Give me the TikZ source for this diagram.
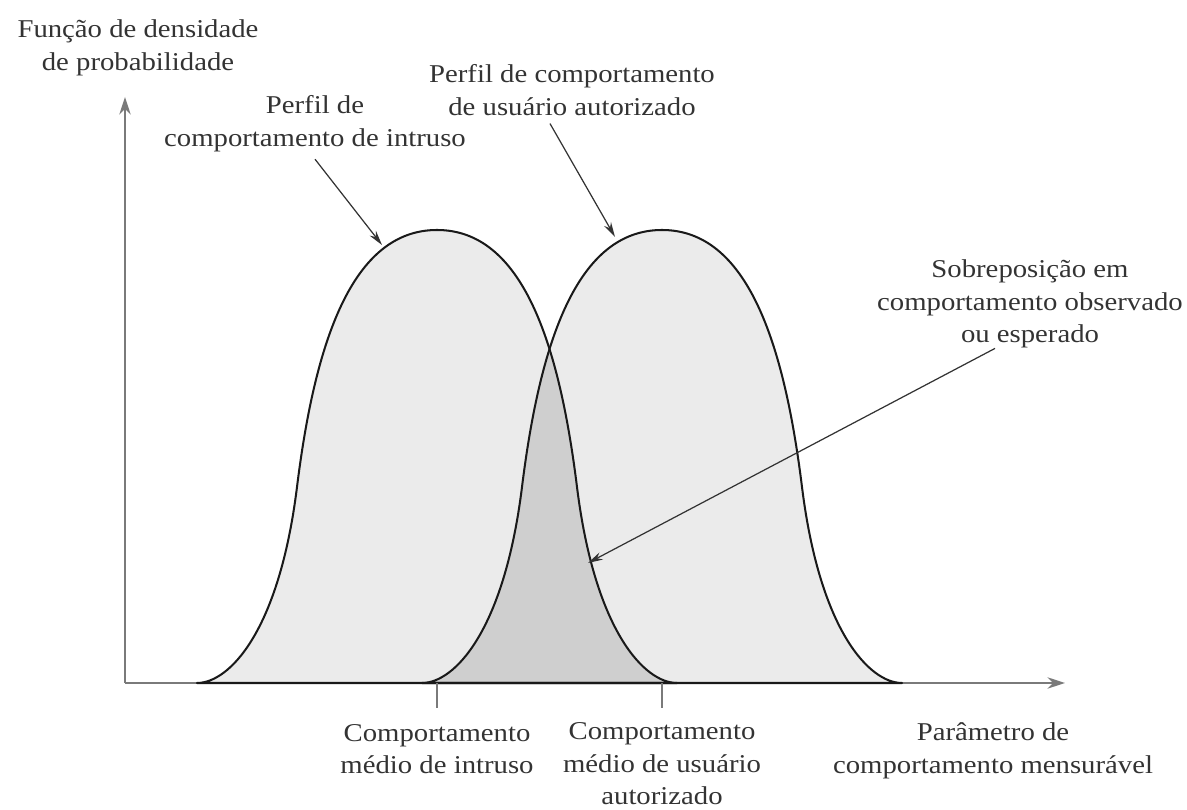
\documentclass[tikz,border=0pt]{standalone}
\usepackage{fontspec}
\setmainfont{Liberation Serif}[FakeStretch=1.12]
\usetikzlibrary{arrows.meta,calc,positioning}

\definecolor{curvefill}{HTML}{EBEBEB}
\definecolor{overlapfill}{HTML}{CFCFCF}
\definecolor{axisgray}{HTML}{7A7A7A}
\definecolor{textgray}{HTML}{333333}

% one bell curve, peak at the local origin's x, base on the local x-axis
\tikzset{
  bell/.style={insert path={(-240,0) .. controls (-208,0) and (-158,51) .. (-140,196)
      .. controls (-122,341) and (-85,453) .. (0,453)
      .. controls (85,453) and (122,341) .. (140,196)
      .. controls (158,51) and (208,0) .. (240,0) -- cycle}}
}

\begin{document}
\begin{tikzpicture}[x=0.02cm, y=0.02cm,
    txt/.style={align=center, text=textgray, font=\fontsize{14.6}{18.6}\selectfont, inner sep=1pt},
    outline/.style={draw=black!90, line width=1.15pt, line join=round},
    axis/.style={draw=axisgray, line width=0.9pt, -{Stealth[length=10pt,width=6.5pt]}},
    pointer/.style={draw=black!80, line width=0.7pt, -{Stealth[length=8.5pt,width=4.5pt]}},
    tickline/.style={draw=axisgray, line width=0.9pt}]
    \useasboundingbox (0,0) rectangle (1187,810);

    \coordinate (origin) at (125,127);
    \coordinate (xend) at (1065,127);
    \coordinate (yend) at (125,713);
    \coordinate (intrusomean) at (437,127);
    \coordinate (usuariomean) at (662,127);
    \coordinate (tickA) at (437,102);
    \coordinate (tickB) at (662,102);

    % curves and their overlap
    \fill[curvefill, shift={(intrusomean)}, bell];
    \fill[curvefill, shift={(usuariomean)}, bell];
    \begin{scope}
        \clip[shift={(intrusomean)}, bell];
        \fill[overlapfill, shift={(usuariomean)}, bell];
    \end{scope}

    \draw[axis] (origin) -- (xend);
    \draw[axis] (origin) -- (yend);
    \draw[outline, shift={(intrusomean)}, bell];
    \draw[outline, shift={(usuariomean)}, bell];

    \draw[tickline] (intrusomean) -- (tickA);
    \draw[tickline] (usuariomean) -- (tickB);

    % labels
    \node[txt] (ylabel) at (138,762) {Função de densidade\\de probabilidade};
    \node[txt] (intruso) at (315,686) {Perfil de\\comportamento de intruso};
    \node[txt] (usuario) at (572,720) {Perfil de comportamento\\de usuário autorizado};
    \node[txt] (sobrep) at (1030,506) {Sobreposição em\\comportamento observado\\ou esperado};
    \node[txt, below=8pt of tickA] (mediointruso) {Comportamento\\médio de intruso};
    \node[txt, below=7pt of tickB] (mediousuario) {Comportamento\\médio de usuário\\autorizado};
    \node[txt] (parametro) at (993,59) {Parâmetro de\\comportamento mensurável};

    % pointers
    \coordinate (intrusotip) at (382,565);
    \coordinate (usuariotip) at (615,573);
    \coordinate (sobreptip) at (588,247);

    \draw[pointer] ($(intruso.south)+(0,-5)$) -- (intrusotip);
    \draw[pointer] ($(usuario.south)+(-22,-6)$) -- (usuariotip);
    \draw[pointer] ($(sobrep.south)+(-35,2)$) -- (sobreptip);
\end{tikzpicture}
\end{document}
